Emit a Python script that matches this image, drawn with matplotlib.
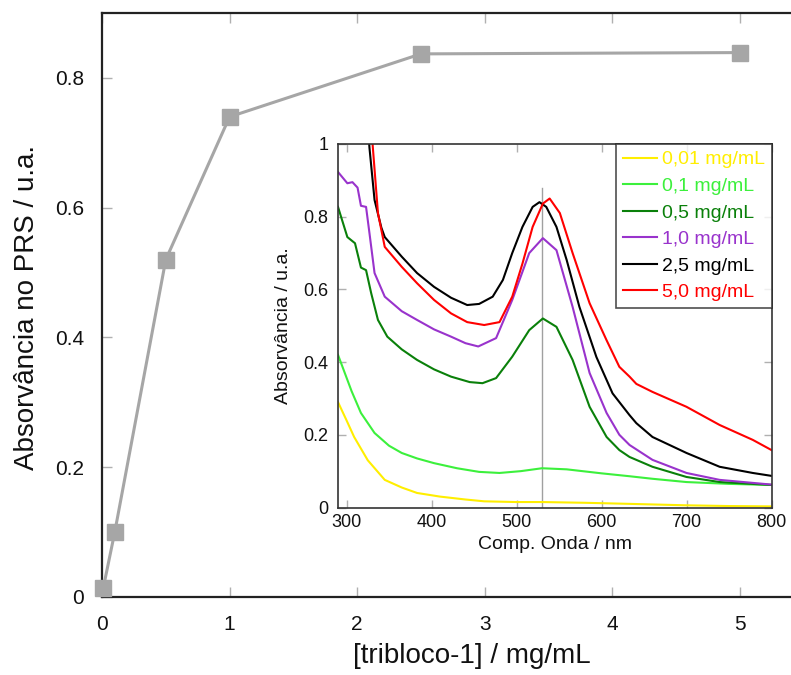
import matplotlib
matplotlib.use("Agg")
import matplotlib.pyplot as plt

plt.rcParams['font.family'] = ['Liberation Sans', 'DejaVu Sans']

# ---- main chart data ----
conc = [0.01, 0.1, 0.5, 1.0, 2.5, 5.0]
abs_prs = [0.014, 0.10, 0.52, 0.74, 0.837, 0.839]
main_xticks = [0, 1, 2, 3, 4, 5]
main_yticks = [0, 0.2, 0.4, 0.6, 0.8]

# ---- inset spectra data ----
nm_001 = [290, 300, 309, 325, 345, 365, 383, 410, 440, 462, 500, 530, 580, 633, 700, 750, 800]
ab_001 = [0.29, 0.24, 0.194, 0.13, 0.076, 0.055, 0.04, 0.03, 0.022, 0.017, 0.015, 0.015, 0.013, 0.01, 0.006, 0.004, 0.003]

nm_01 = [290, 306, 317, 333, 350, 365, 383, 403, 430, 456, 480, 505, 530, 559, 600, 633, 660, 700, 750, 800]
ab_01 = [0.42, 0.32, 0.26, 0.205, 0.17, 0.15, 0.135, 0.122, 0.108, 0.098, 0.095, 0.10, 0.108, 0.105, 0.094, 0.086, 0.079, 0.07, 0.065, 0.062]

nm_05 = [290, 301, 310, 317, 323, 329, 337, 348, 365, 383, 403, 423, 445, 460, 476, 495, 515, 531, 547, 566, 586, 606, 621, 633, 660, 700, 739, 800]
ab_05 = [0.827, 0.744, 0.727, 0.66, 0.653, 0.59, 0.516, 0.47, 0.435, 0.406, 0.38, 0.36, 0.345, 0.342, 0.356, 0.415, 0.488, 0.52, 0.497, 0.406, 0.277, 0.194, 0.158, 0.139, 0.112, 0.084, 0.07, 0.062]

nm_10 = [290, 301, 307, 313, 317, 323, 327, 333, 345, 365, 383, 403, 423, 440, 455, 476, 495, 515, 531, 547, 566, 586, 606, 621, 633, 660, 700, 739, 800]
ab_10 = [0.923, 0.892, 0.895, 0.88, 0.83, 0.827, 0.755, 0.645, 0.58, 0.54, 0.516, 0.49, 0.47, 0.452, 0.443, 0.466, 0.571, 0.70, 0.741, 0.708, 0.552, 0.37, 0.26, 0.20, 0.172, 0.131, 0.095, 0.076, 0.063]

nm_25 = [310, 322, 327, 333, 341, 345, 365, 383, 403, 423, 442, 456, 472, 484, 495, 507, 519, 527, 535, 547, 559, 574, 594, 613, 633, 641, 660, 700, 739, 778, 800]
ab_25 = [1.6, 1.15, 0.99, 0.846, 0.77, 0.744, 0.69, 0.645, 0.607, 0.577, 0.557, 0.56, 0.58, 0.626, 0.70, 0.772, 0.827, 0.84, 0.827, 0.772, 0.681, 0.552, 0.414, 0.314, 0.254, 0.232, 0.194, 0.15, 0.112, 0.095, 0.087]

nm_50 = [315, 326, 331, 337, 345, 365, 383, 403, 423, 442, 462, 480, 495, 507, 519, 531, 539, 551, 566, 586, 606, 621, 633, 641, 660, 700, 739, 778, 800]
ab_50 = [1.6, 1.15, 0.99, 0.81, 0.717, 0.662, 0.617, 0.571, 0.534, 0.51, 0.502, 0.51, 0.58, 0.671, 0.772, 0.836, 0.85, 0.81, 0.70, 0.562, 0.46, 0.387, 0.36, 0.34, 0.318, 0.277, 0.227, 0.186, 0.158]

series_labels = ['0,01 mg/mL', '0,1 mg/mL', '0,5 mg/mL', '1,0 mg/mL', '2,5 mg/mL', '5,0 mg/mL']
series_colors = ['#ffee00', '#3cf03c', '#0a800a', '#9933cc', '#000000', '#ff0000']
inset_xticks = [300, 400, 500, 600, 700, 800]
inset_yticks = [0, 0.2, 0.4, 0.6, 0.8, 1]
peak_nm = 530

fig = plt.figure(figsize=(7.91, 6.75), dpi=100)

# ---------------- main axes ----------------
axw = 5.5 * 127.6
ax = fig.add_axes([102 / 791, 78 / 675, axw / 791, 584 / 675])
ax.plot(conc, abs_prs, color='#a6a6a6', lw=2.2, marker='s', ms=11,
        mfc='#a6a6a6', mec='#a6a6a6', clip_on=False, zorder=3)
ax.set_xlim(0, 5.5)
ax.set_ylim(0, 0.9)
ax.set_xticks(main_xticks)
ax.set_xticklabels([str(v) for v in main_xticks])
ax.set_yticks(main_yticks)
ax.set_yticklabels(['0' if v == 0 else f'{v:.1f}' for v in main_yticks])
ax.tick_params(direction='in', length=7, width=1, color='#b0b0b0',
               top=True, right=True, labelsize=15, pad=13, labelcolor='#111111')
for s in ax.spines.values():
    s.set_linewidth(1.6)
    s.set_color('#222222')
ax.set_xlabel('[tribloco-1] / mg/mL', fontsize=20, color='#111111')
ax.set_ylabel('Absorvância no PRS / u.a.', fontsize=20, color='#111111')
ax.xaxis.set_label_coords((472 - 102) / axw, (597 - 643) / 584)
ax.yaxis.set_label_coords((40 - 102) / axw, (597 - 307) / 584)

# ---------------- inset axes ----------------
ins = fig.add_axes([338 / 791, (675 - 507.5) / 675, 433.5 / 791, 363.5 / 675])
ins.set_facecolor('white')
ins.plot([peak_nm, peak_nm], [0, 0.88], color='#a0a0a0', lw=1.0, zorder=1)
all_nm = [nm_001, nm_01, nm_05, nm_10, nm_25, nm_50]
all_ab = [ab_001, ab_01, ab_05, ab_10, ab_25, ab_50]
for xs, ys, lab, col in zip(all_nm, all_ab, series_labels, series_colors):
    ins.plot(xs, ys, color=col, lw=1.5, label=lab, zorder=2)
ins.set_xlim(290, 800)
ins.set_ylim(0, 1)
ins.set_xticks(inset_xticks)
ins.set_xticklabels([str(v) for v in inset_xticks])
ins.set_yticks(inset_yticks)
ins.set_yticklabels(['0' if v == 0 else ('1' if v == 1 else f'{v:.1f}') for v in inset_yticks])
ins.tick_params(direction='in', length=6, width=1, color='#b0b0b0',
                top=True, right=True, labelsize=13, labelcolor='#111111')
ins.tick_params(axis='y', pad=7)
ins.tick_params(axis='x', pad=5)
for s in ins.spines.values():
    s.set_linewidth(1.2)
    s.set_color('#333333')
ins.set_xlabel('Comp. Onda / nm', fontsize=14, color='#111111', labelpad=3)
ins.set_ylabel('Absorvância / u.a.', fontsize=14, color='#111111', labelpad=8)

leg = ins.legend(loc='upper right', borderaxespad=0, fontsize=14,
                 handlelength=1.75, handletextpad=0.26, labelspacing=0.46,
                 fancybox=False, frameon=True, borderpad=0.35)
leg.get_frame().set_edgecolor('#222222')
leg.get_frame().set_linewidth(1.2)
for txt, col in zip(leg.get_texts(), series_colors):
    txt.set_color(col)

fig.savefig('out.png', dpi=100)
